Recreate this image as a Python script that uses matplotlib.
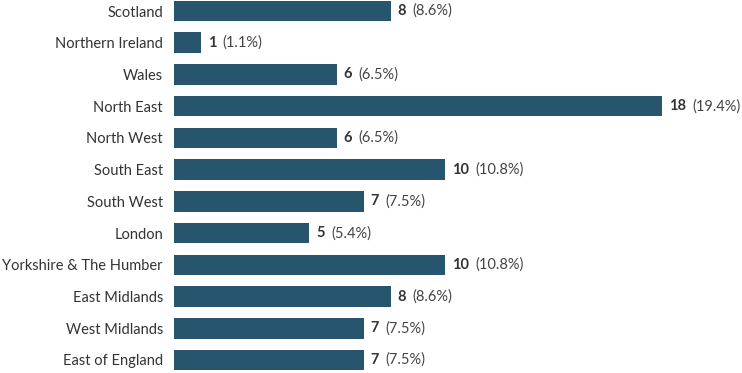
import matplotlib.pyplot as plt

regions = ["Scotland", "Northern Ireland", "Wales", "North East", "North West",
           "South East", "South West", "London", "Yorkshire & The Humber",
           "East Midlands", "West Midlands", "East of England"]
counts = [8, 1, 6, 18, 6, 10, 7, 5, 10, 8, 7, 7]
pcts = ["8.6%", "1.1%", "6.5%", "19.4%", "6.5%", "10.8%", "7.5%", "5.4%",
        "10.8%", "8.6%", "7.5%", "7.5%"]

plt.rcParams['font.family'] = ['Lato', 'DejaVu Sans']
text_col = '#333333'
bar_col = '#28556e'

fig = plt.figure(figsize=(7.42, 3.73), dpi=100)
ax = fig.add_axes([174 / 742, 0, 568 / 742, 1])

y = list(range(len(regions)))
ax.barh(y, counts, height=0.65, color=bar_col)

for i, (c, p) in enumerate(zip(counts, pcts)):
    t1 = ax.annotate(str(c), xy=(c, i), xytext=(5, 0), textcoords='offset points',
                     va='center', ha='left', fontsize=10.5, fontweight='bold', color=text_col)
    ax.annotate("(" + p + ")", xy=(1, 0.5), xycoords=t1, xytext=(4.5, 0),
                textcoords='offset points', va='center', ha='left',
                fontsize=10.5, color='#444444')

ax.set_xlim(0, 20.96)
ax.set_ylim(11.41, -0.347)
ax.set_yticks(y)
ax.set_yticklabels(regions, fontsize=10.5, color=text_col)
ax.tick_params(axis='y', length=0, pad=8)
ax.set_xticks([])
for s in ax.spines.values():
    s.set_visible(False)

plt.savefig("out.png", dpi=100)
